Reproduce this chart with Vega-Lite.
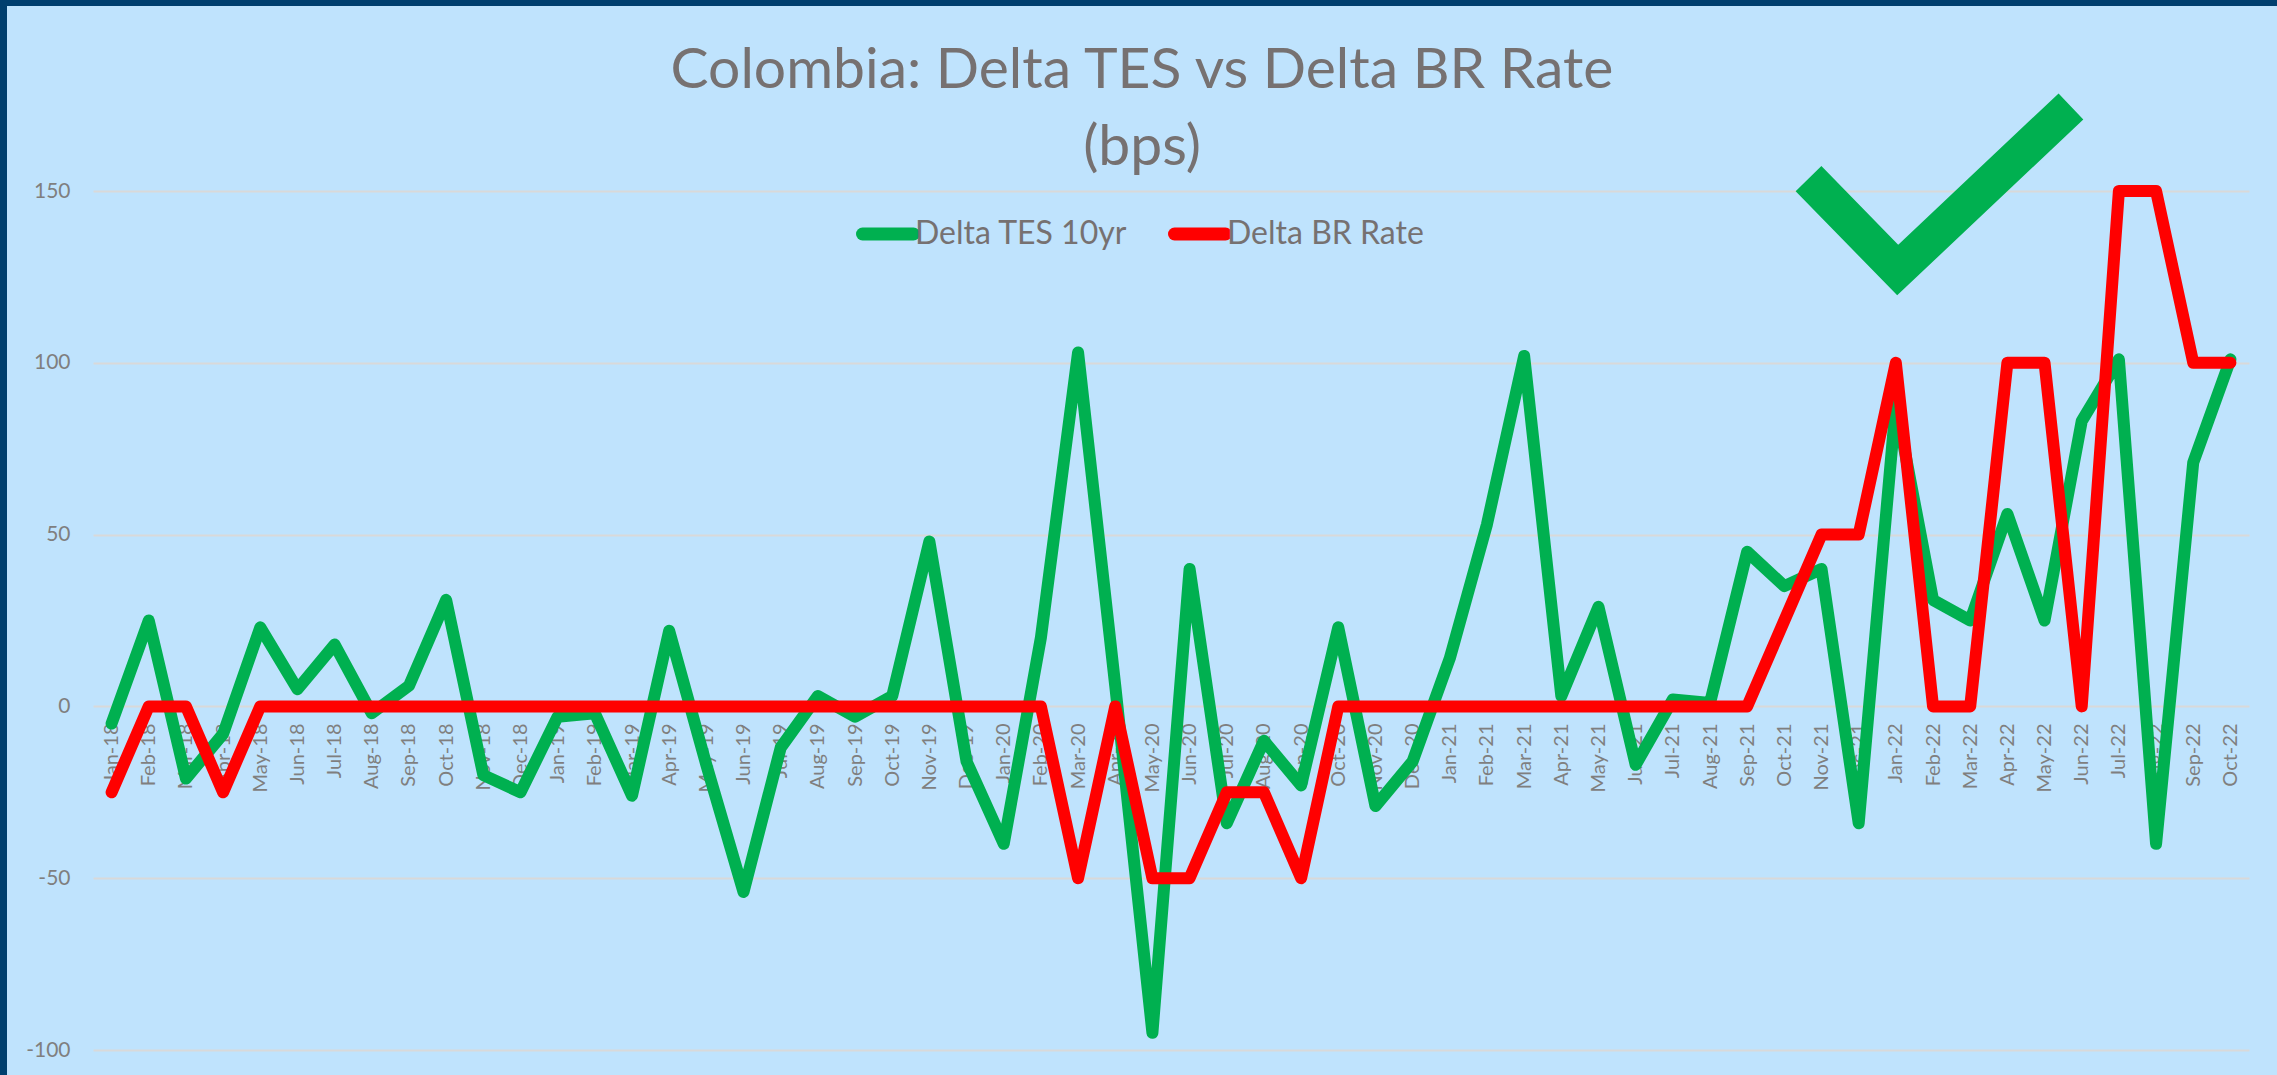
{
  "$schema": "https://vega.github.io/schema/vega-lite/v6.json",
  "width": 2270,
  "height": 1069,
  "autosize": {"type": "none"},
  "padding": {"left": 7, "top": 6, "right": 0, "bottom": 0},
  "background": "#003F6E",
  "config": {"view": {"fill": "#BFE3FD", "stroke": null}, "font": "Lato"},
  "title": {
    "text": ["Colombia: Delta TES vs Delta BR Rate", "(bps)"],
    "font": "Lato",
    "fontSize": 57,
    "fontWeight": "normal",
    "color": "#767171",
    "anchor": "middle",
    "frame": "group",
    "lineHeight": 77,
    "offset": -171
  },
  "datasets": {
    "main": [
      {"m": 0, "month": "Jan-18", "Delta TES 10yr": -5, "Delta BR Rate": -25},
      {"m": 1, "month": "Feb-18", "Delta TES 10yr": 25, "Delta BR Rate": 0},
      {"m": 2, "month": "Mar-18", "Delta TES 10yr": -21, "Delta BR Rate": 0},
      {"m": 3, "month": "Apr-18", "Delta TES 10yr": -8, "Delta BR Rate": -25},
      {"m": 4, "month": "May-18", "Delta TES 10yr": 23, "Delta BR Rate": 0},
      {"m": 5, "month": "Jun-18", "Delta TES 10yr": 5, "Delta BR Rate": 0},
      {"m": 6, "month": "Jul-18", "Delta TES 10yr": 18, "Delta BR Rate": 0},
      {"m": 7, "month": "Aug-18", "Delta TES 10yr": -2, "Delta BR Rate": 0},
      {"m": 8, "month": "Sep-18", "Delta TES 10yr": 6, "Delta BR Rate": 0},
      {"m": 9, "month": "Oct-18", "Delta TES 10yr": 31, "Delta BR Rate": 0},
      {"m": 10, "month": "Nov-18", "Delta TES 10yr": -20, "Delta BR Rate": 0},
      {"m": 11, "month": "Dec-18", "Delta TES 10yr": -25, "Delta BR Rate": 0},
      {"m": 12, "month": "Jan-19", "Delta TES 10yr": -3, "Delta BR Rate": 0},
      {"m": 13, "month": "Feb-19", "Delta TES 10yr": -2, "Delta BR Rate": 0},
      {"m": 14, "month": "Mar-19", "Delta TES 10yr": -26, "Delta BR Rate": 0},
      {"m": 15, "month": "Apr-19", "Delta TES 10yr": 22, "Delta BR Rate": 0},
      {"m": 16, "month": "May-19", "Delta TES 10yr": -17, "Delta BR Rate": 0},
      {"m": 17, "month": "Jun-19", "Delta TES 10yr": -54, "Delta BR Rate": 0},
      {"m": 18, "month": "Jul-19", "Delta TES 10yr": -12, "Delta BR Rate": 0},
      {"m": 19, "month": "Aug-19", "Delta TES 10yr": 3, "Delta BR Rate": 0},
      {"m": 20, "month": "Sep-19", "Delta TES 10yr": -3, "Delta BR Rate": 0},
      {"m": 21, "month": "Oct-19", "Delta TES 10yr": 3, "Delta BR Rate": 0},
      {"m": 22, "month": "Nov-19", "Delta TES 10yr": 48, "Delta BR Rate": 0},
      {"m": 23, "month": "Dec-19", "Delta TES 10yr": -16, "Delta BR Rate": 0},
      {"m": 24, "month": "Jan-20", "Delta TES 10yr": -40, "Delta BR Rate": 0},
      {"m": 25, "month": "Feb-20", "Delta TES 10yr": 20, "Delta BR Rate": 0},
      {"m": 26, "month": "Mar-20", "Delta TES 10yr": 103, "Delta BR Rate": -50},
      {"m": 27, "month": "Apr-20", "Delta TES 10yr": 6, "Delta BR Rate": 0},
      {"m": 28, "month": "May-20", "Delta TES 10yr": -95, "Delta BR Rate": -50},
      {"m": 29, "month": "Jun-20", "Delta TES 10yr": 40, "Delta BR Rate": -50},
      {"m": 30, "month": "Jul-20", "Delta TES 10yr": -34, "Delta BR Rate": -25},
      {"m": 31, "month": "Aug-20", "Delta TES 10yr": -10, "Delta BR Rate": -25},
      {"m": 32, "month": "Sep-20", "Delta TES 10yr": -23, "Delta BR Rate": -50},
      {"m": 33, "month": "Oct-20", "Delta TES 10yr": 23, "Delta BR Rate": 0},
      {"m": 34, "month": "Nov-20", "Delta TES 10yr": -29, "Delta BR Rate": 0},
      {"m": 35, "month": "Dec-20", "Delta TES 10yr": -16, "Delta BR Rate": 0},
      {"m": 36, "month": "Jan-21", "Delta TES 10yr": 14, "Delta BR Rate": 0},
      {"m": 37, "month": "Feb-21", "Delta TES 10yr": 53, "Delta BR Rate": 0},
      {"m": 38, "month": "Mar-21", "Delta TES 10yr": 102, "Delta BR Rate": 0},
      {"m": 39, "month": "Apr-21", "Delta TES 10yr": 3, "Delta BR Rate": 0},
      {"m": 40, "month": "May-21", "Delta TES 10yr": 29, "Delta BR Rate": 0},
      {"m": 41, "month": "Jun-21", "Delta TES 10yr": -17, "Delta BR Rate": 0},
      {"m": 42, "month": "Jul-21", "Delta TES 10yr": 2, "Delta BR Rate": 0},
      {"m": 43, "month": "Aug-21", "Delta TES 10yr": 1, "Delta BR Rate": 0},
      {"m": 44, "month": "Sep-21", "Delta TES 10yr": 45, "Delta BR Rate": 0},
      {"m": 45, "month": "Oct-21", "Delta TES 10yr": 35, "Delta BR Rate": 25},
      {"m": 46, "month": "Nov-21", "Delta TES 10yr": 40, "Delta BR Rate": 50},
      {"m": 47, "month": "Dec-21", "Delta TES 10yr": -34, "Delta BR Rate": 50},
      {"m": 48, "month": "Jan-22", "Delta TES 10yr": 88, "Delta BR Rate": 100},
      {"m": 49, "month": "Feb-22", "Delta TES 10yr": 31, "Delta BR Rate": 0},
      {"m": 50, "month": "Mar-22", "Delta TES 10yr": 25, "Delta BR Rate": 0},
      {"m": 51, "month": "Apr-22", "Delta TES 10yr": 56, "Delta BR Rate": 100},
      {"m": 52, "month": "May-22", "Delta TES 10yr": 25, "Delta BR Rate": 100},
      {"m": 53, "month": "Jun-22", "Delta TES 10yr": 83, "Delta BR Rate": 0},
      {"m": 54, "month": "Jul-22", "Delta TES 10yr": 101, "Delta BR Rate": 150},
      {"m": 55, "month": "Aug-22", "Delta TES 10yr": -40, "Delta BR Rate": 150},
      {"m": 56, "month": "Sep-22", "Delta TES 10yr": 71, "Delta BR Rate": 100},
      {"m": 57, "month": "Oct-22", "Delta TES 10yr": 101, "Delta BR Rate": 100}
    ],
    "check": [
      {"x": 45.65, "y": 153.6},
      {"x": 48.05, "y": 127.0},
      {"x": 52.71, "y": 174.6}
    ]
  },
  "layer": [
    {
      "data": {"name": "main"},
      "mark": {"type": "line", "strokeWidth": 12, "strokeCap": "round", "strokeJoin": "round"},
      "encoding": {
        "x": {
          "field": "m", "type": "quantitative",
          "scale": {"domain": [-0.5, 57.5], "range": [86, 2242], "nice": false, "zero": false},
          "axis": {"orient": "bottom", "offset": -369, "values": [0,1,2,3,4,5,6,7,8,9,10,11,12,13,14,15,16,17,18,19,20,21,22,23,24,25,26,27,28,29,30,31,32,33,34,35,36,37,38,39,40,41,42,43,44,45,46,47,48,49,50,51,52,53,54,55,56,57], "labelExpr": "timeFormat(datetime(2018, datum.value, 1), '%b-%y')", "labelAngle": -90, "labelPadding": 17, "ticks": false, "domain": false, "grid": false, "title": null, "labelFont": "Lato", "labelFontSize": 20, "labelColor": "#7F7F7F", "labelOverlap": false, "labelFlush": false, "labelBound": false}
        },
        "y": {
          "field": "Delta TES 10yr", "type": "quantitative",
          "scale": {"domain": [-100, 150], "range": [1044, 185], "nice": false, "zero": false},
          "axis": {"orient": "left", "offset": -63, "values": [-100, -50, 0, 50, 100, 150], "labelExpr": "'' + datum.value", "ticks": false, "domain": false, "grid": true, "gridColor": "#D9D9D9", "gridWidth": 2, "labelPadding": 0, "labelFont": "Lato", "labelFontSize": 21, "labelColor": "#7F7F7F", "title": null}
        },
        "color": {
          "datum": "Delta TES 10yr", "type": "nominal",
          "scale": {"domain": ["Delta TES 10yr", "Delta BR Rate"], "range": ["#00B050", "#FF0000"]},
          "legend": {"orient": "none", "legendX": 849, "legendY": 196, "direction": "horizontal", "title": null, "labelFont": "Lato", "labelFontSize": 32, "labelColor": "#767171", "labelLimit": 0, "symbolType": "stroke", "symbolStrokeWidth": 13, "symbolSize": 2601, "labelOffset": -5, "columnPadding": 20, "padding": 0, "encode": {"symbols": {"update": {"strokeCap": {"value": "round"}}}}}
        }
      }
    },
    {
      "data": {"name": "main"},
      "mark": {"type": "line", "strokeWidth": 12, "strokeCap": "round", "strokeJoin": "round"},
      "encoding": {
        "x": {
          "field": "m", "type": "quantitative",
          "scale": {"domain": [-0.5, 57.5], "range": [86, 2242], "nice": false, "zero": false},
          "axis": {"orient": "bottom", "offset": -369, "values": [0,1,2,3,4,5,6,7,8,9,10,11,12,13,14,15,16,17,18,19,20,21,22,23,24,25,26,27,28,29,30,31,32,33,34,35,36,37,38,39,40,41,42,43,44,45,46,47,48,49,50,51,52,53,54,55,56,57], "labelExpr": "timeFormat(datetime(2018, datum.value, 1), '%b-%y')", "labelAngle": -90, "labelPadding": 17, "ticks": false, "domain": false, "grid": false, "title": null, "labelFont": "Lato", "labelFontSize": 20, "labelColor": "#7F7F7F", "labelOverlap": false, "labelFlush": false, "labelBound": false}
        },
        "y": {
          "field": "Delta BR Rate", "type": "quantitative",
          "scale": {"domain": [-100, 150], "range": [1044, 185], "nice": false, "zero": false},
          "axis": {"orient": "left", "offset": -63, "values": [-100, -50, 0, 50, 100, 150], "labelExpr": "'' + datum.value", "ticks": false, "domain": false, "grid": true, "gridColor": "#D9D9D9", "gridWidth": 2, "labelPadding": 0, "labelFont": "Lato", "labelFontSize": 21, "labelColor": "#7F7F7F", "title": null}
        },
        "color": {
          "datum": "Delta BR Rate", "type": "nominal",
          "scale": {"domain": ["Delta TES 10yr", "Delta BR Rate"], "range": ["#00B050", "#FF0000"]},
          "legend": {"orient": "none", "legendX": 849, "legendY": 196, "direction": "horizontal", "title": null, "labelFont": "Lato", "labelFontSize": 32, "labelColor": "#767171", "labelLimit": 0, "symbolType": "stroke", "symbolStrokeWidth": 13, "symbolSize": 2601, "labelOffset": -5, "columnPadding": 20, "padding": 0, "encode": {"symbols": {"update": {"strokeCap": {"value": "round"}}}}}
        }
      }
    },
    {
      "data": {"name": "check"},
      "mark": {"type": "line", "color": "#00B050", "strokeWidth": 36, "strokeCap": "butt", "strokeJoin": "miter"},
      "encoding": {
        "x": {
          "field": "x", "type": "quantitative",
          "scale": {"domain": [-0.5, 57.5], "range": [86, 2242], "nice": false, "zero": false},
          "axis": {"orient": "bottom", "offset": -369, "values": [0,1,2,3,4,5,6,7,8,9,10,11,12,13,14,15,16,17,18,19,20,21,22,23,24,25,26,27,28,29,30,31,32,33,34,35,36,37,38,39,40,41,42,43,44,45,46,47,48,49,50,51,52,53,54,55,56,57], "labelExpr": "timeFormat(datetime(2018, datum.value, 1), '%b-%y')", "labelAngle": -90, "labelPadding": 17, "ticks": false, "domain": false, "grid": false, "title": null, "labelFont": "Lato", "labelFontSize": 20, "labelColor": "#7F7F7F", "labelOverlap": false, "labelFlush": false, "labelBound": false}
        },
        "y": {
          "field": "y", "type": "quantitative",
          "scale": {"domain": [-100, 150], "range": [1044, 185], "nice": false, "zero": false},
          "axis": {"orient": "left", "offset": -63, "values": [-100, -50, 0, 50, 100, 150], "labelExpr": "'' + datum.value", "ticks": false, "domain": false, "grid": true, "gridColor": "#D9D9D9", "gridWidth": 2, "labelPadding": 0, "labelFont": "Lato", "labelFontSize": 21, "labelColor": "#7F7F7F", "title": null}
        }
      }
    }
  ]
}
